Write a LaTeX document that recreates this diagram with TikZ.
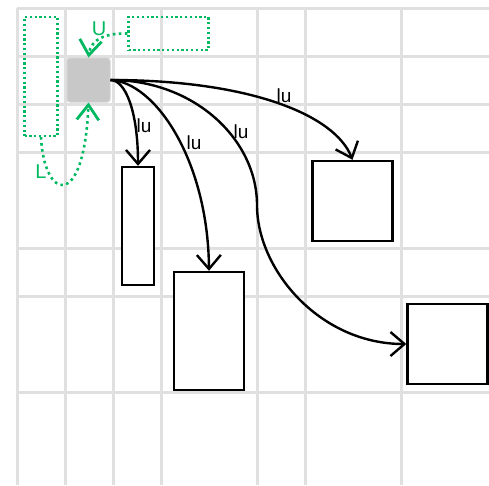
\documentclass[tikz,border=0pt]{standalone}
\usepackage{fontspec}
\setmainfont{Liberation Sans}
\usetikzlibrary{arrows.meta}
\definecolor{gridgray}{RGB}{224,224,224}
\definecolor{srcgray}{RGB}{200,200,200}
\definecolor{linkgreen}{RGB}{0,184,96}
\begin{document}
\begin{tikzpicture}[x=1pt,y=-1pt,
  gridline/.style={draw=gridgray,line width=3pt},
  box/.style={draw=black,line width=2.4pt,fill=white,inner sep=0pt,rectangle},
  srcbox/.style={fill=srcgray,draw=srcgray!80!white,line width=1pt,rounded corners=3pt,inner sep=0pt,rectangle},
  ghost/.style={draw=linkgreen,line width=2.2pt,dash pattern=on 2.2pt off 2.6pt,inner sep=0pt,rectangle},
  link/.style={draw=black,line width=2.4pt,-{Straight Barb[length=14pt,width=24pt]}},
  glink/.style={draw=linkgreen,line width=2.6pt,dash pattern=on 2.6pt off 3.4pt,-{Straight Barb[length=15pt,width=22pt,line width=2.8pt]}},
  lbl/.style={font=\fontsize{19}{22}\selectfont,text=black,inner sep=0pt},
  glbl/.style={font=\fontsize{20}{24}\selectfont,text=linkgreen,inner sep=0pt}]
\useasboundingbox (0,0) rectangle (489,485);
% background grid
\foreach \gx in {17,65,113,161,257,305,401}
  \draw[gridline] (\gx,8) -- (\gx,485);
\foreach \gy in {8,56,104,152,248,296,392}
  \draw[gridline] (17,\gy) -- (489,\gy);
% nodes
\node[srcbox,minimum width=43pt,minimum height=44pt] (src) at (88.5,80) {};
\node[box,minimum width=32pt,minimum height=118pt] (a) at (138,226) {};
\node[box,minimum width=70pt,minimum height=118pt] (b) at (209,331) {};
\node[box,minimum width=80pt,minimum height=80pt] (c) at (352.5,201) {};
\node[box,minimum width=80pt,minimum height=80pt] (d) at (447.5,344) {};
\node[ghost,minimum width=33pt,minimum height=119pt] (gl) at (41,76.5) {};
\node[ghost,minimum width=80pt,minimum height=33pt] (gt) at (168.5,33.5) {};
% black links
\draw[link] (src.east) .. controls (125,80) and (138,110) .. (a.north);
\draw[link] (src.east) .. controls (155,82) and (208,160) .. (b.north);
\coordinate (bend) at (257,205);
\draw[link] (src.east) .. controls (195,80) and (257,140) .. (bend)
  .. controls (257,270) and (320,344) .. (d.west);
\draw[link] (src.east) .. controls (250,80) and (335,115) .. (c.north);
% green links
\draw[glink] (gt.west) .. controls (108,33) and (91,38) .. (src.north);
\draw[glink] (gl.south) .. controls (44,200) and (84,212) .. (src.south);
% labels
\node[lbl] (l1) at (144,126) {lu};
\node[lbl] (l2) at (194,143) {lu};
\node[lbl] (l3) at (241,132) {lu};
\node[lbl] (l4) at (284,96) {lu};
\node[glbl] (lu) at (99,29) {U};
\node[glbl] (ll) at (41,172) {L};
\end{tikzpicture}
\end{document}
